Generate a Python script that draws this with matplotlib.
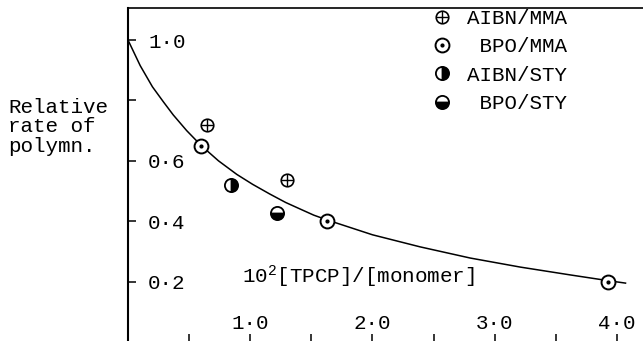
import numpy as np
import matplotlib
matplotlib.use("Agg")
import matplotlib.pyplot as plt

plt.rcParams['font.family'] = ['Liberation Mono', 'DejaVu Sans']
plt.rcParams['mathtext.fontset'] = 'custom'
plt.rcParams['mathtext.rm'] = 'Liberation Mono'
plt.rcParams['mathtext.it'] = 'Liberation Mono'

# data
aibn_mma_x = [0.65, 1.30]
aibn_mma_y = [0.72, 0.536]
bpo_mma_x = [0.60, 1.63, 3.93]
bpo_mma_y = [0.649, 0.40, 0.199]
aibn_sty_x = [0.84]
aibn_sty_y = [0.52]
bpo_sty_x = [1.22]
bpo_sty_y = [0.427]

# smooth curve
curve_x = [0, 0.1, 0.2, 0.29, 0.37, 0.48, 0.6, 0.74, 0.89, 1.02, 1.16, 1.29, 1.41, 1.52, 1.63,
           2.0, 2.39, 2.8, 3.21, 3.62, 3.93, 4.07]
curve_y = [1.0, 0.915, 0.845, 0.795, 0.752, 0.70, 0.65, 0.60, 0.555, 0.522, 0.49, 0.462, 0.44, 0.42, 0.404,
           0.355, 0.315, 0.278, 0.248, 0.222, 0.203, 0.195]

xticks = [0, 0.5, 1.0, 1.5, 2.0, 2.5, 3.0, 3.5, 4.0]
xticklabels = ['', '', '1·0', '', '2·0', '', '3·0', '', '4·0']
yticks = [0.2, 0.4, 0.6, 0.8, 1.0]
yticklabels = ['0·2', '0·4', '0·6', '', '1·0']

W, H = 643, 341
fig = plt.figure(figsize=(W / 100, H / 100), dpi=100)
ax = fig.add_axes([128 / W, -1 / H, 1 - 128 / W, 334 / H])
ax.set_xlim(0, 4.213)
ax.set_ylim(0, 1.106)

ax.plot(curve_x, curve_y, color='black', lw=1.1, zorder=1)

# AIBN/MMA: circle with plus
h1a, = ax.plot(aibn_mma_x, aibn_mma_y, 'o', ms=9, mfc='white', mec='black', mew=1.2, zorder=3)
h1b, = ax.plot(aibn_mma_x, aibn_mma_y, '+', ms=9, color='black', mew=1.0, zorder=4)
# BPO/MMA: circle with dot
h2a, = ax.plot(bpo_mma_x, bpo_mma_y, 'o', ms=10, mfc='white', mec='black', mew=1.4, zorder=3)
h2b, = ax.plot(bpo_mma_x, bpo_mma_y, 'o', ms=2, color='black', zorder=4)
# AIBN/STY: right half filled
h3, = ax.plot(aibn_sty_x, aibn_sty_y, 'o', ms=9.5, fillstyle='right', mfc='black',
              markerfacecoloralt='white', mec='black', mew=1.3, zorder=3)
# BPO/STY: bottom half filled
h4, = ax.plot(bpo_sty_x, bpo_sty_y, 'o', ms=9.5, fillstyle='bottom', mfc='black',
              markerfacecoloralt='white', mec='black', mew=1.3, zorder=3)

ax.legend([(h1a, h1b), (h2a, h2b), h3, h4],
          ['AIBN/MMA', ' BPO/MMA', 'AIBN/STY', ' BPO/STY'],
          loc='upper left', bbox_to_anchor=(434 / W, 1 - 9 / H), bbox_transform=fig.transFigure,
          frameon=False, fontsize=15, numpoints=1, handlelength=0.8, handletextpad=0.8,
          labelspacing=0.45, borderpad=0, borderaxespad=0)

ax.spines['right'].set_visible(False)
ax.spines['bottom'].set_visible(False)
ax.spines['left'].set_linewidth(1.5)
ax.spines['top'].set_linewidth(1.2)

ax.set_xticks(xticks)
ax.set_xticklabels(xticklabels, fontsize=15)
ax.set_yticks(yticks)
ax.set_yticklabels(yticklabels, fontsize=15)
ax.tick_params(axis='x', direction='in', length=6, width=1.1, pad=-20)
ax.tick_params(axis='y', direction='in', length=6, width=1.1, pad=-14.4)
for lbl in ax.get_yticklabels():
    lbl.set_horizontalalignment('left')

fig.text(242 / W, 1 - 277 / H, '10$^2$[TPCP]/[monomer]', fontsize=15, va='center', ha='left')
fig.text(8 / W, 1 - 108 / H, 'Relative', fontsize=15, va='center', ha='left')
fig.text(8 / W, 1 - 127 / H, 'rate of', fontsize=15, va='center', ha='left')
fig.text(8 / W, 1 - 146 / H, 'polymn.', fontsize=15, va='center', ha='left')

fig.savefig('out.png', dpi=100)
